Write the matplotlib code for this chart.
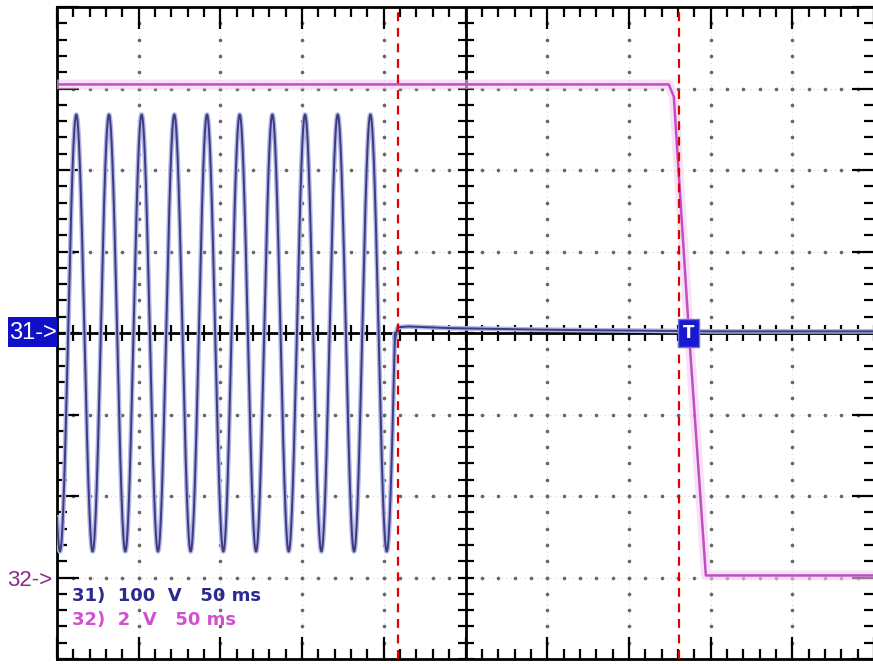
import numpy as np
import matplotlib
matplotlib.use("Agg")
import matplotlib.pyplot as plt
from matplotlib.patches import Rectangle

# ---------------- data ----------------
time_per_div_ms = 50          # horizontal scale
n_div_x = 10
n_div_y = 8
ch1_volts_per_div = 100
ch2_volts_per_div = 2
ch2_ground_div = -3.0         # position of the "32->" ground marker

# channel 1: mains sine that is switched off at a zero crossing
ch1_amplitude_v = 268
ch1_freq_hz = 50
ch1_first_peak_ms = 11.8
ch1_cut_ms = 206.8
ch1_tail_ms = [206.8, 208.5, 215, 240, 300, 400, 500]
ch1_tail_v = [-8, 7, 8, 6, 4, 2, 2]

# channel 2: control voltage dropping to zero
ch2_ms = [0, 374.4, 377.5, 386.6, 397.1, 500]
ch2_v = [12.1, 12.1, 11.8, 6.1, 0.05, 0.05]

cursor_ms = [208.9, 380.5]
trigger_ms = 386.6

label_ch1 = "31)  100  V   50 ms"
label_ch2 = "32)  2  V   50 ms"

# ---------------- figure ----------------
W, H = 873, 664
fig = plt.figure(figsize=(W / 100, H / 100), dpi=100)
fig.patch.set_facecolor("white")
ax = fig.add_axes([57 / W, 5 / H, (W - 57 + 1) / W, 652 / H])

t_total = time_per_div_ms * n_div_x
ax.set_xlim(0, t_total)
ax.set_ylim(-n_div_y / 2, n_div_y / 2)

major_x = np.arange(0, t_total + 1, time_per_div_ms)
minor_x = np.arange(0, t_total + 0.1, time_per_div_ms / 5)
major_y = np.arange(-n_div_y / 2, n_div_y / 2 + 0.01, 1)
minor_y = np.arange(-n_div_y / 2, n_div_y / 2 + 0.01, 0.2)

ax.set_xticks(major_x)
ax.set_xticks(minor_x, minor=True)
ax.set_yticks(major_y)
ax.set_yticks(minor_y, minor=True)
ax.tick_params(which="both", direction="in", top=True, right=True,
               labelbottom=False, labelleft=False, color="black")
ax.tick_params(which="major", length=16, width=1.6)
ax.tick_params(which="minor", length=7, width=1.6)
for s in ax.spines.values():
    s.set_linewidth(2)
    s.set_color("black")

# dotted grid
for x in major_x[1:-1]:
    if x == t_total / 2:
        continue
    ax.axvline(x, color="#dadada", lw=0.8, ls=(0, (1, 3)), zorder=1)
    ax.plot(np.full_like(minor_y, x), minor_y, ls="none", marker="o",
            ms=1.6, color="#686868", zorder=1)
for y in major_y[1:-1]:
    if y == 0:
        continue
    ax.axhline(y, color="#dadada", lw=0.8, ls=(0, (1, 3)), zorder=1)
    ax.plot(minor_x, np.full_like(minor_x, y), ls="none", marker="o",
            ms=1.6, color="#686868", zorder=1)

# centre cross with ticks
ax.axhline(0, color="black", lw=2, zorder=2)
ax.axvline(t_total / 2, color="black", lw=2, zorder=2)
ax.plot(minor_x, np.zeros_like(minor_x), ls="none", marker="|", ms=11,
        mew=1.6, color="black", zorder=2)
ax.plot(np.full_like(minor_y, t_total / 2), minor_y, ls="none", marker="_",
        ms=11, mew=1.6, color="black", zorder=2)

# channel 1 trace
t1 = np.linspace(0, ch1_cut_ms, 6000)
v1 = ch1_amplitude_v * np.cos(2 * np.pi * ch1_freq_hz * (t1 - ch1_first_peak_ms) / 1000)
t1 = np.concatenate([t1, ch1_tail_ms])
v1 = np.concatenate([v1, ch1_tail_v])
ax.plot(t1, v1 / ch1_volts_per_div, color="#b4b4e6", lw=3.4, zorder=3)
ax.plot(t1, v1 / ch1_volts_per_div, color="#3c3c80", lw=1.4, zorder=4)

# channel 2 trace
y2 = np.array(ch2_v) / ch2_volts_per_div + ch2_ground_div
ax.plot(ch2_ms, y2, color="#f4cef4", lw=7, alpha=0.6, zorder=3,
        solid_capstyle="butt")
ax.plot(ch2_ms, y2, color="#c050c0", lw=1.8, zorder=5)

# cursors
for c in cursor_ms:
    ax.axvline(c, color="#e00000", lw=1.6, ls=(0, (4, 3)), zorder=6)

# trigger marker
ax.text(trigger_ms, 0, "T", color="white", fontsize=12, fontweight="bold",
        ha="center", va="center", zorder=7, family="DejaVu Sans",
        bbox=dict(boxstyle="square,pad=0.3", fc="#1818d0", ec="#7070e0", lw=1))

# channel ground markers (left margin)
fig.patches.append(Rectangle((8 / W, 1 - 347 / H), 49 / W, 30 / H,
                             transform=fig.transFigure, fc="#1010c8",
                             ec="none", zorder=1))
fig.text(9 / W, 1 - 333 / H, "31->", color="white", fontsize=17,
         family="Liberation Sans", ha="left", va="center", zorder=2)
fig.text(7 / W, 1 - 580 / H, "32->", color="#8a2a8a", fontsize=16,
         family="Liberation Sans", ha="left", va="center", zorder=2)

# scale labels
fig.text(72 / W, 1 - 596 / H, label_ch1, color="#2a2a90", fontsize=13,
         fontweight="bold", family="DejaVu Sans", ha="left", va="center")
fig.text(72 / W, 1 - 620 / H, label_ch2, color="#d050d0", fontsize=13,
         fontweight="bold", family="DejaVu Sans", ha="left", va="center")

fig.savefig("out.png", dpi=100, facecolor="white")
